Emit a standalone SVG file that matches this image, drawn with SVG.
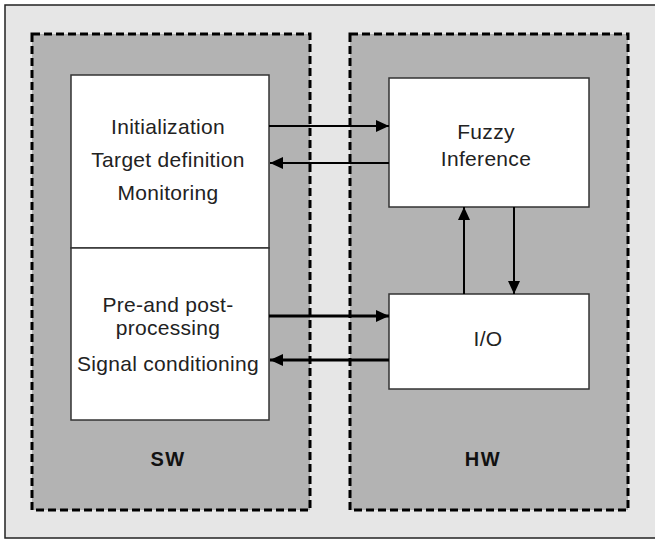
<svg xmlns="http://www.w3.org/2000/svg" width="655" height="540" viewBox="0 0 655 540">
<style>
  .bg{fill:#e6e6e6;stroke:#222;stroke-width:1.5}
  .zone{fill:#b3b3b3;stroke:#000;stroke-width:3;stroke-dasharray:8 4}
  .box{fill:#fff;stroke:#333;stroke-width:1.5}
  .t{font-family:"Liberation Sans",Arial,sans-serif;font-size:21px;fill:#222;text-anchor:middle;letter-spacing:0.3px}
  .lbl{font-family:"Liberation Sans",Arial,sans-serif;font-size:20px;font-weight:bold;fill:#111;text-anchor:middle;letter-spacing:1.5px}
  .c{stroke:#000;fill:none}
  .thin{stroke-width:2}
  .thick{stroke-width:3}
</style>
<defs>
  <marker id="ah" markerUnits="userSpaceOnUse" markerWidth="14" markerHeight="12" refX="13" refY="6" orient="auto">
    <path d="M0,0 L13,6 L0,12 Z" fill="#000"/>
  </marker>
</defs>
<rect class="bg" x="5" y="5" width="660" height="533"/>
<g id="sw">
  <rect class="zone" x="32" y="34" width="278" height="476"/>
  <text class="lbl" x="168" y="466">SW</text>
</g>
<g id="hw">
  <rect class="zone" x="350" y="34" width="278" height="476"/>
  <text class="lbl" x="483" y="466">HW</text>
</g>
<g id="sw-top">
  <rect class="box" x="71" y="75" width="198" height="173"/>
  <text class="t" x="168" y="134">Initialization</text>
  <text class="t" x="168" y="167">Target definition</text>
  <text class="t" x="168" y="200">Monitoring</text>
</g>
<g id="sw-bottom">
  <rect class="box" x="71" y="248" width="198" height="172"/>
  <text class="t" x="168" y="312">Pre-and post-</text>
  <text class="t" x="168" y="335">processing</text>
  <text class="t" x="168" y="371">Signal conditioning</text>
</g>
<g id="fuzzy">
  <rect class="box" x="389" y="78" width="200" height="129"/>
  <text class="t" x="486" y="139">Fuzzy</text>
  <text class="t" x="486" y="166">Inference</text>
</g>
<g id="io">
  <rect class="box" x="389" y="294" width="200" height="95"/>
  <text class="t" x="488" y="346">I/O</text>
</g>
<g id="connectors">
  <line class="c thin" x1="269" y1="126" x2="389" y2="126" marker-end="url(#ah)"/>
  <line class="c thin" x1="389" y1="163" x2="270" y2="163" marker-end="url(#ah)"/>
  <line class="c thick" x1="269" y1="316" x2="389" y2="316" marker-end="url(#ah)"/>
  <line class="c thick" x1="389" y1="360" x2="270" y2="360" marker-end="url(#ah)"/>
  <line class="c thin" x1="464" y1="294" x2="464" y2="207" marker-end="url(#ah)"/>
  <line class="c thin" x1="514" y1="207" x2="514" y2="294" marker-end="url(#ah)"/>
</g>
</svg>
